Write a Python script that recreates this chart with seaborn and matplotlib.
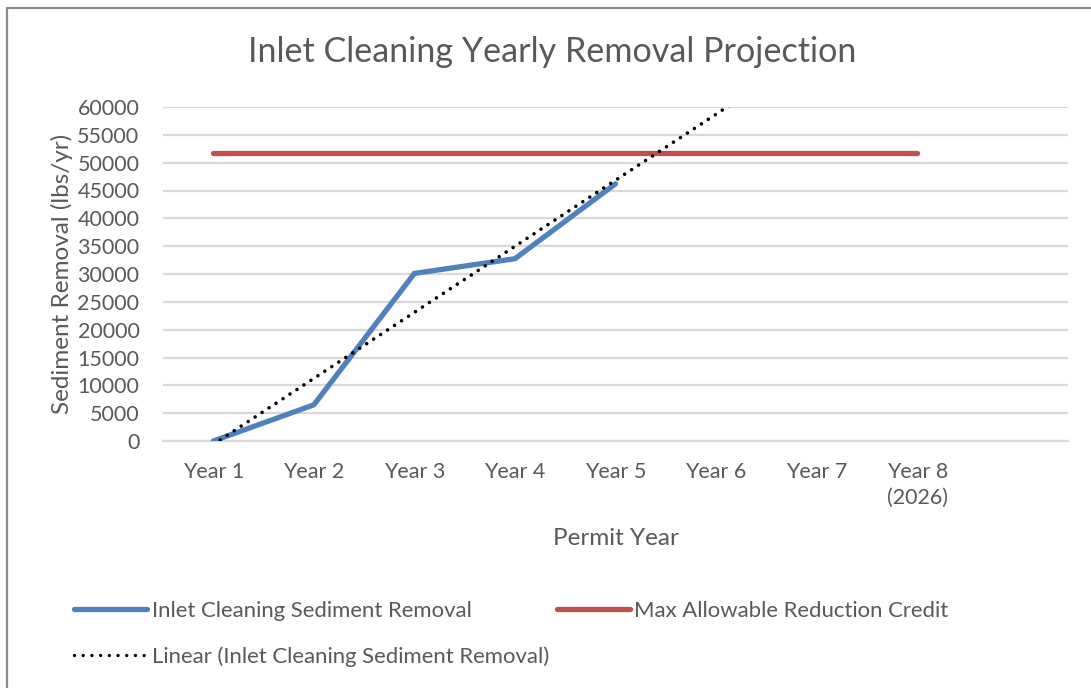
import numpy as np
import pandas as pd
import matplotlib
matplotlib.use("Agg")
import matplotlib.pyplot as plt
import seaborn as sns
from matplotlib.lines import Line2D

# ── Data ────────────────────────────────────────────────────────────────────
years = ["Year 1", "Year 2", "Year 3", "Year 4", "Year 5", "Year 6", "Year 7", "Year 8\n(2026)", ""]
removal = [0, 6500, 30100, 32750, 46200]          # Inlet Cleaning Sediment Removal (Year 1-5)
max_credit = [51700] * 8                          # Max Allowable Reduction Credit (Year 1-8)
y_ticks = list(range(0, 60001, 5000))

TEXT = "#595959"
BLUE = "#4F81BD"
RED = "#C0504D"
GRID = "#D9D9D9"

sns.set_theme(style="white")
plt.rcParams["font.family"] = ["Lato", "DejaVu Sans"]

fig = plt.figure(figsize=(10.91, 6.88), dpi=100)
ax = fig.add_axes([163 / 1091, 1 - 441 / 688, 905 / 1091, 334 / 688])

df_removal = pd.DataFrame({"x": np.arange(len(removal)), "y": removal})
df_credit = pd.DataFrame({"x": np.arange(len(max_credit)), "y": max_credit})

# Excel-style linear trendline fitted to the removal series
slope, intercept = np.polyfit(df_removal["x"], df_removal["y"], 1)
trend_x = np.array([0, 7])
df_trend = pd.DataFrame({"x": trend_x, "y": slope * trend_x + intercept})

sns.lineplot(data=df_credit, x="x", y="y", ax=ax, color=RED, linewidth=3.8,
             solid_capstyle="round", zorder=3)
sns.lineplot(data=df_trend, x="x", y="y", ax=ax, color="black", linewidth=2.6,
             linestyle=(0, (0.01, 2.3)), dash_capstyle="round", zorder=5)
sns.lineplot(data=df_removal, x="x", y="y", ax=ax, color=BLUE, linewidth=3.8,
             solid_capstyle="round", solid_joinstyle="miter", zorder=4)

ax.set_xlim(-0.5, len(years) - 0.5)
ax.set_ylim(0, 60000)
ax.set_xticks(np.arange(len(years)))
ax.set_xticklabels(years, linespacing=1.35)
ax.set_yticks(y_ticks)
ax.set_yticklabels([str(v) for v in y_ticks])
ax.tick_params(axis="both", length=0, labelsize=15.5, labelcolor=TEXT)
ax.tick_params(axis="y", pad=17)
ax.tick_params(axis="x", pad=15)

ax.grid(axis="y", color=GRID, linewidth=1.6)
ax.set_axisbelow(True)
for side in ["top", "right", "left"]:
    ax.spines[side].set_visible(False)
ax.spines["bottom"].set_color(GRID)
ax.spines["bottom"].set_linewidth(1.6)

ax.set_xlabel("Permit Year", fontsize=17.5, color=TEXT)
ax.set_ylabel("Sediment Removal (lbs/yr)", fontsize=17.5, color=TEXT)
ax.xaxis.set_label_coords(0.5, (441 - 528) / 334)
ax.yaxis.set_label_coords((73 - 163) / 905, 0.5)

fig.text(552 / 1091, 1 - 52 / 688, "Inlet Cleaning Yearly Removal Projection",
         ha="center", va="center", fontsize=24.6, color=TEXT)

handles = [
    Line2D([], [], color=BLUE, linewidth=3.8, solid_capstyle="round"),
    Line2D([], [], color="black", linewidth=2.4, linestyle=(0, (0.01, 2.6)), dash_capstyle="round"),
    Line2D([], [], color=RED, linewidth=3.8, solid_capstyle="round"),
]
labels = [
    "Inlet Cleaning Sediment Removal",
    "Linear (Inlet Cleaning Sediment Removal)",
    "Max Allowable Reduction Credit",
]
leg = fig.legend(handles, labels, loc="upper left", ncol=2, frameon=False,
                 bbox_to_anchor=(74 / 1091, 1 - 601 / 688), borderpad=0, borderaxespad=0,
                 fontsize=15.9, handlelength=3.3, handletextpad=0.22,
                 columnspacing=0.35, labelspacing=1.15)
for t in leg.get_texts():
    t.set_color(TEXT)

# chart frame (left and top edges visible in the reference)
fig.add_artist(Line2D([7 / 1091, 7 / 1091], [0, 1 - 8 / 688], color="#8C8C8C", linewidth=1.6))
fig.add_artist(Line2D([7 / 1091, 1], [1 - 8 / 688, 1 - 8 / 688], color="#8C8C8C", linewidth=1.6))

fig.savefig("out.png", dpi=100, facecolor="white")
plt.close(fig)
